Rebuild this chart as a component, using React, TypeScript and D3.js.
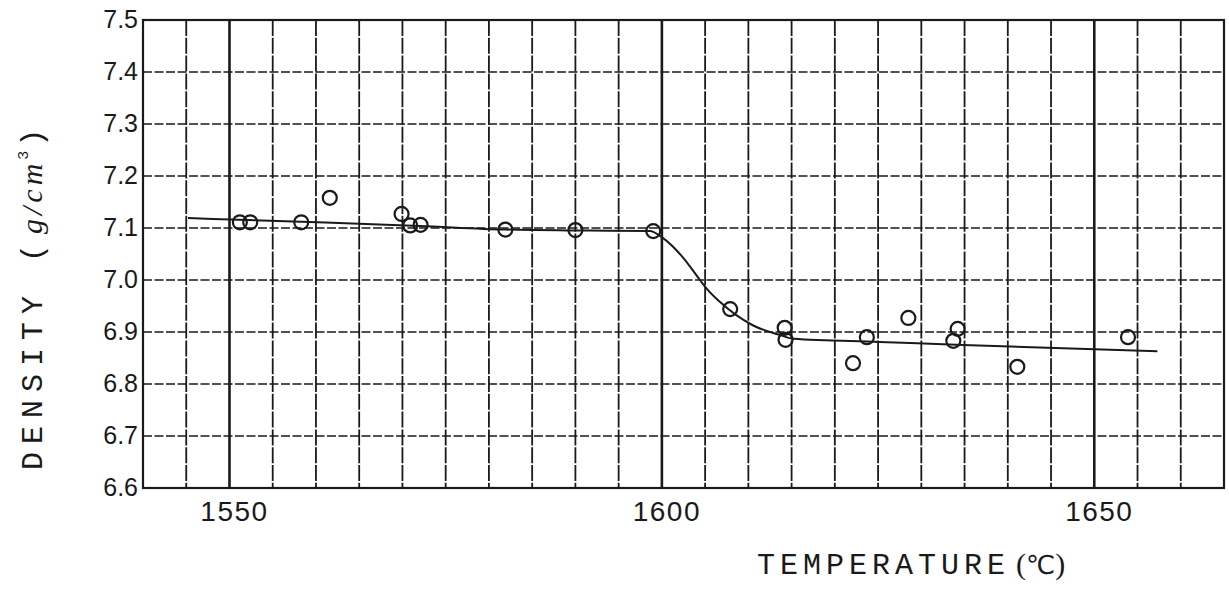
import React from "react";
import * as d3 from "d3";

// measured points (temperature °C, density g/cm3)
const temps = [
  1551.2, 1552.4, 1558.3, 1561.6, 1569.9, 1570.9, 1572.1, 1581.9, 1590.0,
  1599.0, 1607.9, 1614.2, 1614.3, 1622.1, 1623.7, 1628.5, 1634.2, 1633.7,
  1641.1, 1653.9,
];
const densities = [
  7.111, 7.111, 7.111, 7.158, 7.127, 7.105, 7.106, 7.097, 7.096,
  7.094, 6.944, 6.908, 6.885, 6.84, 6.89, 6.927, 6.906, 6.883,
  6.833, 6.89,
];

// hand drawn fitted curve
const curveT = [
  1545.2, 1558.3, 1572.0, 1581.9, 1591.7, 1598.6, 1600.1, 1602.4, 1604.4,
  1605.2, 1606.7, 1610.5, 1613.7, 1615.2, 1625.2, 1634.8, 1657.3,
];
const curveD = [
  7.119, 7.112, 7.104, 7.097, 7.095, 7.094, 7.081, 7.044, 7.0,
  6.983, 6.958, 6.913, 6.894, 6.887, 6.881, 6.875, 6.863,
];

const yTicks = [7.5, 7.4, 7.3, 7.2, 7.1, 7.0, 6.9, 6.8, 6.7, 6.6];
const xLabels = [1550, 1600, 1650];
const xGrid = d3.range(1545, 1665, 5);

const W = 1229;
const H = 594;

const App: React.FC = () => {
  const x = d3.scaleLinear().domain([1540, 1665]).range([143, 1224]);
  const y = d3.scaleLinear().domain([6.6, 7.5]).range([488, 20]);

  const line = d3
    .line<number>()
    .x((_d, i) => x(curveT[i]))
    .y((d) => y(d))
    .curve(d3.curveMonotoneX);

  const ink = "#1a1a1a";
  const typewriter = "Liberation Mono, Courier New, monospace";

  return (
    <svg
      width={W}
      height={H}
      style={{ position: "absolute", left: 0, top: 0, background: "#fff" }}
    >
      {/* horizontal grid, dashed like the scan */}
      {yTicks.slice(1, -1).map((t) => (
        <line
          key={"h" + t}
          x1={x(1540)}
          x2={x(1665)}
          y1={y(t)}
          y2={y(t)}
          stroke={ink}
          strokeWidth={1.6}
          strokeDasharray="9,2.5"
        />
      ))}
      {/* vertical grid */}
      {xGrid.map((t) => {
        const major = t % 50 === 0;
        return (
          <line
            key={"v" + t}
            x1={x(t)}
            x2={x(t)}
            y1={y(7.5)}
            y2={y(6.6)}
            stroke={ink}
            strokeWidth={major ? 2.6 : 1.8}
            strokeDasharray={major ? undefined : "16,1.8"}
          />
        );
      })}
      <rect
        x={x(1540)}
        y={y(7.5)}
        width={x(1665) - x(1540)}
        height={y(6.6) - y(7.5)}
        fill="none"
        stroke={ink}
        strokeWidth={2.2}
      />

      {/* y tick labels */}
      {yTicks.map((t) => (
        <text
          key={"yl" + t}
          x={138}
          y={y(t) - 1}
          textAnchor="end"
          dominantBaseline="central"
          fontFamily="Liberation Sans, Arial, sans-serif"
          fontSize={25}
          fill={ink}
        >
          {t.toFixed(1)}
        </text>
      ))}

      {/* x tick labels */}
      {xLabels.map((t) => (
        <text
          key={"xl" + t}
          x={x(t) + 5}
          y={511}
          textAnchor="middle"
          dominantBaseline="central"
          fontFamily="Liberation Sans, Arial, sans-serif"
          fontSize={28}
          letterSpacing={1.5}
          fill={ink}
        >
          {t}
        </text>
      ))}

      {/* fitted curve */}
      <path d={line(curveD) ?? ""} fill="none" stroke={ink} strokeWidth={2} />

      {/* data points */}
      {temps.map((t, i) => (
        <circle
          key={"p" + i}
          cx={x(t)}
          cy={y(densities[i])}
          r={7}
          fill="none"
          stroke={ink}
          strokeWidth={2.2}
        />
      ))}

      {/* axis titles */}
      <text
        x={757}
        y={574}
        fontFamily={typewriter}
        fontSize={30}
        letterSpacing={5}
        fill={ink}
      >
        TEMPERATURE
        <tspan dx={6} fontFamily="Liberation Serif, serif" letterSpacing={0}>
          (
        </tspan>
        <tspan fontFamily="DejaVu Sans, sans-serif" fontSize={26} letterSpacing={0}>
          ℃
        </tspan>
        <tspan fontFamily="Liberation Serif, serif" letterSpacing={0}>
          )
        </tspan>
      </text>
      <text
        transform={`translate(42,470) rotate(-90)`}
        fontFamily={typewriter}
        fontSize={30}
        letterSpacing={8}
        fill={ink}
      >
        DENSITY (
        <tspan
          fontFamily="Liberation Serif, serif"
          fontStyle="italic"
          letterSpacing={4}
          dx={2}
        >
          g/cm
        </tspan>
        <tspan fontSize={15} dy={-14} letterSpacing={0}>
          3
        </tspan>
        <tspan dy={14} dx={4} letterSpacing={0}>
          )
        </tspan>
      </text>
    </svg>
  );
};

export default App;
